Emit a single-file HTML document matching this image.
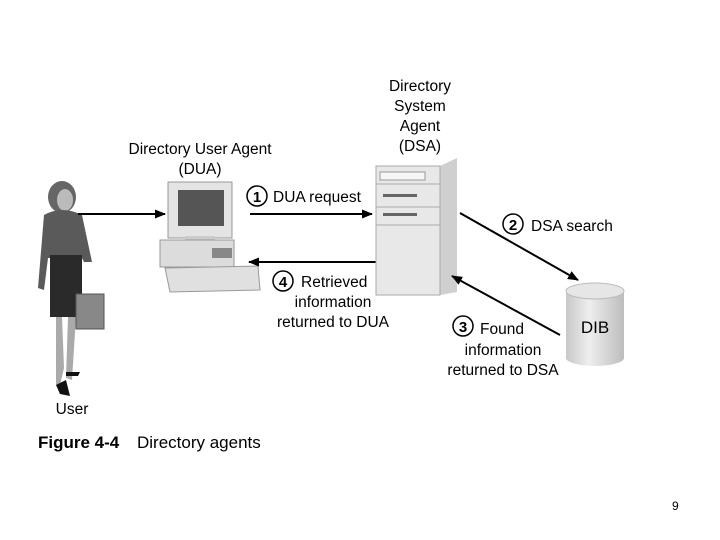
<!DOCTYPE html>
<html><head><style>
body{margin:0;background:#fff;}
svg{display:block;font-family:"Liberation Sans",sans-serif;}
</style></head><body>
<svg width="720" height="540" viewBox="0 0 720 540">
<defs>
<marker id="ah" markerWidth="11" markerHeight="9" refX="10" refY="4.5" orient="auto" markerUnits="userSpaceOnUse"><path d="M0,0 L11,4.5 L0,9 z" fill="#000"/></marker>
<linearGradient id="cyl" x1="0" x2="1"><stop offset="0" stop-color="#c8c8c8"/><stop offset="0.4" stop-color="#eee"/><stop offset="1" stop-color="#bdbdbd"/></linearGradient>
</defs>
<g>
<ellipse cx="62" cy="197" rx="14" ry="16" fill="#666"/>
<ellipse cx="65" cy="200" rx="8" ry="11" fill="#bbb"/>
<path d="M44,215 Q62,205 82,215 L92,262 L84,262 L82,258 L48,258 L44,290 L38,288 Z" fill="#5a5a5a"/>
<rect x="50" y="255" width="32" height="62" fill="#2a2a2a"/>
<path d="M56,317 L62,317 L64,368 L60,385 L56,385 Z" fill="#aaa"/>
<path d="M68,317 L76,317 L72,380 L66,378 Z" fill="#aaa"/>
<path d="M56,385 L66,380 L70,396 L60,394 Z" fill="#111"/>
<path d="M66,372 L80,372 L78,376 L66,376 Z" fill="#111"/>
<rect x="76" y="294" width="28" height="35" fill="#888" stroke="#555"/>
</g>
<line x1="78" y1="214" x2="165" y2="214" stroke="#000" stroke-width="2" marker-end="url(#ah)"/>
<rect x="168" y="182" width="64" height="56" fill="#e4e4e4" stroke="#999"/>
<rect x="178" y="190" width="46" height="36" fill="#555"/>
<rect x="185" y="236" width="30" height="6" fill="#ccc"/>
<rect x="160" y="240" width="74" height="27" fill="#dcdcdc" stroke="#999"/>
<rect x="212" y="248" width="20" height="10" fill="#888"/>
<path d="M165,268 L258,266 L260,290 L170,292 Z" fill="#e0e0e0" stroke="#999"/>
<line x1="250" y1="214" x2="372" y2="214" stroke="#000" stroke-width="2" marker-end="url(#ah)"/>
<line x1="376" y1="262" x2="249" y2="262" stroke="#000" stroke-width="2" marker-end="url(#ah)"/>
<path d="M376,166 L440,166 L457,158 L457,292 L440,295 Z" fill="#cfcfcf"/>
<rect x="376" y="166" width="64" height="129" fill="#e8e8e8" stroke="#aaa"/>
<rect x="380" y="172" width="45" height="8" fill="#f6f6f6" stroke="#999"/>
<line x1="376" y1="184" x2="440" y2="184" stroke="#aaa"/>
<line x1="376" y1="207" x2="440" y2="207" stroke="#aaa"/>
<line x1="376" y1="225" x2="440" y2="225" stroke="#aaa"/>
<rect x="383" y="194" width="34" height="3" fill="#666"/>
<rect x="383" y="213" width="34" height="3" fill="#666"/>
<path d="M566,291 L566,358 A29,8 0 0 0 624,358 L624,291 Z" fill="url(#cyl)"/>
<ellipse cx="595" cy="291" rx="29" ry="8" fill="#e6e6e6" stroke="#bbb"/>
<text x="595" y="333" font-size="17" text-anchor="middle">DIB</text>
<line x1="460" y1="213" x2="578" y2="280" stroke="#000" stroke-width="2" marker-end="url(#ah)"/>
<line x1="560" y1="335" x2="452" y2="276" stroke="#000" stroke-width="2" marker-end="url(#ah)"/>
<g font-size="15.5" fill="#000">
<text x="200" y="154" text-anchor="middle">Directory User Agent</text>
<text x="200" y="174" text-anchor="middle">(DUA)</text>
<text x="420" y="91" text-anchor="middle">Directory</text>
<text x="420" y="111" text-anchor="middle">System</text>
<text x="420" y="131" text-anchor="middle">Agent</text>
<text x="420" y="151" text-anchor="middle">(DSA)</text>
<circle cx="257" cy="196" r="10" fill="none" stroke="#000" stroke-width="1.5"/>
<text x="257" y="202" text-anchor="middle" font-weight="bold" font-size="15">1</text>
<text x="273" y="202">DUA request</text>
<circle cx="283" cy="281" r="10" fill="none" stroke="#000" stroke-width="1.5"/>
<text x="283" y="287" text-anchor="middle" font-weight="bold" font-size="15">4</text>
<text x="301" y="287">Retrieved</text>
<text x="333" y="307" text-anchor="middle">information</text>
<text x="333" y="327" text-anchor="middle">returned to DUA</text>
<circle cx="513" cy="224" r="10" fill="none" stroke="#000" stroke-width="1.5"/>
<text x="513" y="230" text-anchor="middle" font-weight="bold" font-size="15">2</text>
<text x="531" y="231">DSA search</text>
<circle cx="463" cy="326" r="10" fill="none" stroke="#000" stroke-width="1.5"/>
<text x="463" y="332" text-anchor="middle" font-weight="bold" font-size="15">3</text>
<text x="480" y="334">Found</text>
<text x="503" y="355" text-anchor="middle">information</text>
<text x="503" y="375" text-anchor="middle">returned to DSA</text>
<text x="72" y="414" text-anchor="middle">User</text>
<text x="38" y="448" font-size="17" font-weight="bold">Figure 4-4</text>
<text x="137" y="448" font-size="17">Directory agents</text>
</g>
<text x="672" y="510" font-size="12">9</text>
</svg>
</body></html>
